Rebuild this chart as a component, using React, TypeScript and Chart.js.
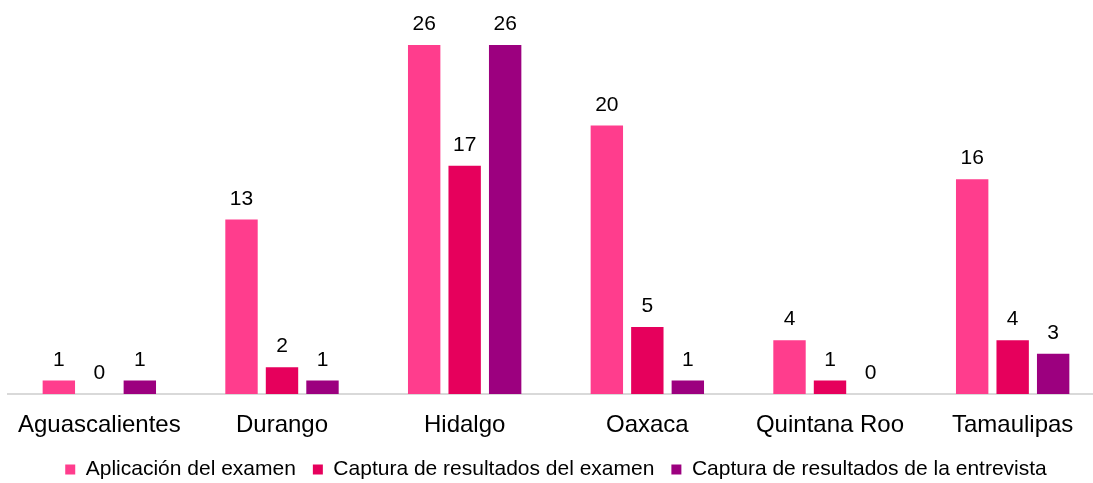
import React, { useEffect, useRef } from "react";
import { Chart, registerables } from "chart.js";

Chart.register(...registerables);

const categories = ["Aguascalientes", "Durango", "Hidalgo", "Oaxaca", "Quintana Roo", "Tamaulipas"];
const seriesNames = [
  "Aplicación del examen",
  "Captura de resultados del examen",
  "Captura de resultados de la entrevista",
];
const aplicacion = [1, 13, 26, 20, 4, 16];
const capturaExamen = [0, 2, 17, 5, 1, 4];
const capturaEntrevista = [1, 1, 26, 1, 0, 3];
const colors = ["#FF3D8D", "#E6005C", "#9C007F"];

const FONT = "'Liberation Sans', Arial, sans-serif";

const valueLabels = {
  id: "valueLabels",
  afterDatasetsDraw(chart: any) {
    const ctx = chart.ctx;
    ctx.save();
    ctx.fillStyle = "#000";
    ctx.font = `21px ${FONT}`;
    ctx.textAlign = "center";
    ctx.textBaseline = "alphabetic";
    chart.data.datasets.forEach((ds: any, i: number) => {
      const meta = chart.getDatasetMeta(i);
      meta.data.forEach((bar: any, j: number) => {
        ctx.fillText(String(ds.data[j]), bar.x, bar.y - 15);
      });
    });
    ctx.restore();
  },
};

export default function App() {
  const ref = useRef<HTMLCanvasElement>(null);
  useEffect(() => {
    if (!ref.current) return;
    const series = [aplicacion, capturaExamen, capturaEntrevista];
    const chart = new Chart(ref.current, {
      type: "bar",
      data: {
        labels: categories,
        datasets: series.map((d, i) => ({
          label: seriesNames[i],
          data: d,
          backgroundColor: colors[i],
          borderWidth: 0,
          barPercentage: 0.8,
          categoryPercentage: 0.665,
        })),
      },
      options: {
        responsive: false,
        animation: false,
        devicePixelRatio: 1,
        layout: { padding: { left: 8, right: 0, top: 45, bottom: 0 } },
        scales: {
          x: {
            grid: { display: false },
            border: { display: true, color: "#D9D9D9", width: 2 },
            ticks: { color: "#000", font: { size: 24, family: FONT }, padding: 9, maxRotation: 0 },
            afterFit: (scale: any) => {
              scale.height = 48;
            },
          },
          y: {
            display: false,
            min: 0,
            max: 26,
          },
        },
        plugins: {
          legend: {
            position: "bottom",
            labels: {
              color: "#000",
              font: { size: 21, family: FONT },
              boxWidth: 10,
              boxHeight: 10,
              padding: 17,
            },
          },
          tooltip: { enabled: false },
        },
      },
      plugins: [valueLabels],
    });
    return () => chart.destroy();
  }, []);
  return (
    <div style={{ position: "fixed", left: 0, top: 0, width: 1093, height: 483, overflow: "hidden", background: "#fff" }}>
      <canvas ref={ref} width={1104} height={490} style={{ display: "block", width: 1104, height: 490 }} />
    </div>
  );
}
